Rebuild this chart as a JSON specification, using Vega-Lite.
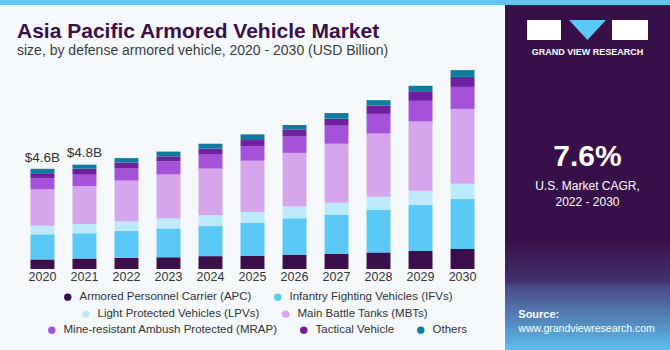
{
  "$schema": "https://vega.github.io/schema/vega-lite/v6.json",
  "background": "#f5f9fc",
  "padding": 0,
  "spacing": 0,
  "bounds": "flush",
  "config": {"view": {"stroke": null}, "font": "Liberation Sans"},
  "datasets": {
    "segs": [
      {"seg":"Armored Personnel Carrier (APC)","rank":1},
      {"seg":"Infantry Fighting Vehicles (IFVs)","rank":2},
      {"seg":"Light Protected Vehicles (LPVs)","rank":3},
      {"seg":"Main Battle Tanks (MBTs)","rank":4},
      {"seg":"Mine-resistant Ambush Protected (MRAP)","rank":5},
      {"seg":"Tactical Vehicle","rank":6},
      {"seg":"Others","rank":7}
    ],
    "main": [
      {"year":"2020","seg":"Armored Personnel Carrier (APC)","v":0.44},{"year":"2020","seg":"Infantry Fighting Vehicles (IFVs)","v":1.15},{"year":"2020","seg":"Light Protected Vehicles (LPVs)","v":0.40},{"year":"2020","seg":"Main Battle Tanks (MBTs)","v":1.67},{"year":"2020","seg":"Mine-resistant Ambush Protected (MRAP)","v":0.50},{"year":"2020","seg":"Tactical Vehicle","v":0.24},{"year":"2020","seg":"Others","v":0.20},
      {"year":"2021","seg":"Armored Personnel Carrier (APC)","v":0.48},{"year":"2021","seg":"Infantry Fighting Vehicles (IFVs)","v":1.16},{"year":"2021","seg":"Light Protected Vehicles (LPVs)","v":0.43},{"year":"2021","seg":"Main Battle Tanks (MBTs)","v":1.74},{"year":"2021","seg":"Mine-resistant Ambush Protected (MRAP)","v":0.52},{"year":"2021","seg":"Tactical Vehicle","v":0.28},{"year":"2021","seg":"Others","v":0.18},
      {"year":"2022","seg":"Armored Personnel Carrier (APC)","v":0.51},{"year":"2022","seg":"Infantry Fighting Vehicles (IFVs)","v":1.24},{"year":"2022","seg":"Light Protected Vehicles (LPVs)","v":0.43},{"year":"2022","seg":"Main Battle Tanks (MBTs)","v":1.88},{"year":"2022","seg":"Mine-resistant Ambush Protected (MRAP)","v":0.55},{"year":"2022","seg":"Tactical Vehicle","v":0.28},{"year":"2022","seg":"Others","v":0.20},
      {"year":"2023","seg":"Armored Personnel Carrier (APC)","v":0.54},{"year":"2023","seg":"Infantry Fighting Vehicles (IFVs)","v":1.32},{"year":"2023","seg":"Light Protected Vehicles (LPVs)","v":0.46},{"year":"2023","seg":"Main Battle Tanks (MBTs)","v":2.02},{"year":"2023","seg":"Mine-resistant Ambush Protected (MRAP)","v":0.60},{"year":"2023","seg":"Tactical Vehicle","v":0.23},{"year":"2023","seg":"Others","v":0.22},
      {"year":"2024","seg":"Armored Personnel Carrier (APC)","v":0.59},{"year":"2024","seg":"Infantry Fighting Vehicles (IFVs)","v":1.38},{"year":"2024","seg":"Light Protected Vehicles (LPVs)","v":0.50},{"year":"2024","seg":"Main Battle Tanks (MBTs)","v":2.14},{"year":"2024","seg":"Mine-resistant Ambush Protected (MRAP)","v":0.64},{"year":"2024","seg":"Tactical Vehicle","v":0.28},{"year":"2024","seg":"Others","v":0.22},
      {"year":"2025","seg":"Armored Personnel Carrier (APC)","v":0.60},{"year":"2025","seg":"Infantry Fighting Vehicles (IFVs)","v":1.53},{"year":"2025","seg":"Light Protected Vehicles (LPVs)","v":0.49},{"year":"2025","seg":"Main Battle Tanks (MBTs)","v":2.35},{"year":"2025","seg":"Mine-resistant Ambush Protected (MRAP)","v":0.66},{"year":"2025","seg":"Tactical Vehicle","v":0.29},{"year":"2025","seg":"Others","v":0.26},
      {"year":"2026","seg":"Armored Personnel Carrier (APC)","v":0.66},{"year":"2026","seg":"Infantry Fighting Vehicles (IFVs)","v":1.67},{"year":"2026","seg":"Light Protected Vehicles (LPVs)","v":0.54},{"year":"2026","seg":"Main Battle Tanks (MBTs)","v":2.46},{"year":"2026","seg":"Mine-resistant Ambush Protected (MRAP)","v":0.75},{"year":"2026","seg":"Tactical Vehicle","v":0.33},{"year":"2026","seg":"Others","v":0.20},
      {"year":"2027","seg":"Armored Personnel Carrier (APC)","v":0.70},{"year":"2027","seg":"Infantry Fighting Vehicles (IFVs)","v":1.80},{"year":"2027","seg":"Light Protected Vehicles (LPVs)","v":0.54},{"year":"2027","seg":"Main Battle Tanks (MBTs)","v":2.71},{"year":"2027","seg":"Mine-resistant Ambush Protected (MRAP)","v":0.83},{"year":"2027","seg":"Tactical Vehicle","v":0.32},{"year":"2027","seg":"Others","v":0.26},
      {"year":"2028","seg":"Armored Personnel Carrier (APC)","v":0.76},{"year":"2028","seg":"Infantry Fighting Vehicles (IFVs)","v":1.96},{"year":"2028","seg":"Light Protected Vehicles (LPVs)","v":0.60},{"year":"2028","seg":"Main Battle Tanks (MBTs)","v":2.90},{"year":"2028","seg":"Mine-resistant Ambush Protected (MRAP)","v":0.90},{"year":"2028","seg":"Tactical Vehicle","v":0.38},{"year":"2028","seg":"Others","v":0.25},
      {"year":"2029","seg":"Armored Personnel Carrier (APC)","v":0.83},{"year":"2029","seg":"Infantry Fighting Vehicles (IFVs)","v":2.12},{"year":"2029","seg":"Light Protected Vehicles (LPVs)","v":0.64},{"year":"2029","seg":"Main Battle Tanks (MBTs)","v":3.18},{"year":"2029","seg":"Mine-resistant Ambush Protected (MRAP)","v":0.95},{"year":"2029","seg":"Tactical Vehicle","v":0.41},{"year":"2029","seg":"Others","v":0.28},
      {"year":"2030","seg":"Armored Personnel Carrier (APC)","v":0.92},{"year":"2030","seg":"Infantry Fighting Vehicles (IFVs)","v":2.29},{"year":"2030","seg":"Light Protected Vehicles (LPVs)","v":0.70},{"year":"2030","seg":"Main Battle Tanks (MBTs)","v":3.44},{"year":"2030","seg":"Mine-resistant Ambush Protected (MRAP)","v":1.01},{"year":"2030","seg":"Tactical Vehicle","v":0.46},{"year":"2030","seg":"Others","v":0.31}
    ],
    "totals": [
      {"year":"2020","total":4.6,"label":"$4.6B"},
      {"year":"2021","total":4.8,"label":"$4.8B"}
    ]
  },
  "vconcat": [
    {
      "width": 670, "height": 5,
      "view": {"fill": "#62c6ee", "stroke": null},
      "data": {"values": [{"t": ""}]},
      "mark": {"type": "point", "size": 0, "opacity": 0},
      "encoding": {}
    },
    {
      "spacing": 0,
      "bounds": "flush",
      "hconcat": [
        {
          "width": 505, "height": 264,
          "title": {
            "text": "Asia Pacific Armored Vehicle Market",
            "subtitle": "size, by defense armored vehicle, 2020 - 2030 (USD Billion)",
            "anchor": "start", "frame": "group", "dx": 17, "offset": -53,
            "font": "Liberation Sans", "fontSize": 21, "fontWeight": "bold", "color": "#3a0f4a",
            "subtitleFont": "Liberation Sans", "subtitleFontSize": 14, "subtitleColor": "#3c3c3c", "subtitlePadding": 2
          },
          "data": {"name": "main"},
          "encoding": {
            "x": {"field": "year", "type": "ordinal",
              "scale": {"paddingInner": 0.43, "paddingOuter": 0.726},
              "axis": {"title": null, "labelAngle": 0, "domain": false, "ticks": false, "labelFontSize": 12.5, "labelColor": "#333333", "labelPadding": 1, "labelFont": "Liberation Sans"}}
          },
          "layer": [
            {
              "transform": [{"lookup": "seg", "from": {"data": {"name": "segs"}, "key": "seg", "fields": ["rank"]}}],
              "mark": {"type": "bar"},
              "encoding": {
                "y": {"field": "v", "type": "quantitative", "stack": "zero", "scale": {"domain": [0, 12.12]}, "axis": null},
                "order": {"field": "rank", "type": "quantitative", "sort": "ascending"},
                "color": {"field": "seg", "type": "nominal",
                  "scale": {"domain": ["Armored Personnel Carrier (APC)","Infantry Fighting Vehicles (IFVs)","Light Protected Vehicles (LPVs)","Main Battle Tanks (MBTs)","Mine-resistant Ambush Protected (MRAP)","Tactical Vehicle","Others"],
                            "range": ["#3b0f4a","#5bc9f5","#bdeafa","#d5a6ec","#a551d9","#6f20a0","#0e7b9f"]},
                  "legend": null}
              }
            },
            {
              "transform": [{"filter": {"field": "seg", "oneOf": ["Armored Personnel Carrier (APC)","Infantry Fighting Vehicles (IFVs)"]}}],
              "mark": {"type": "point", "filled": true, "opacity": 0},
              "encoding": {
                "y": {"field": "v", "type": "quantitative", "scale": {"domain": [0, 12.12]}, "axis": null},
                "color": {"field": "seg", "type": "nominal",
                  "scale": {"domain": ["Armored Personnel Carrier (APC)","Infantry Fighting Vehicles (IFVs)"], "range": ["#3b0f4a","#5bc9f5"]},
                  "legend": {"orient": "none", "legendX": 62, "legendY": 286, "direction": "horizontal", "title": null, "symbolType": "circle", "symbolSize": 55, "symbolOpacity": 1, "symbolStrokeWidth": 0, "labelFontSize": 11.5, "labelFont": "Liberation Sans", "labelColor": "#333333", "labelOffset": 6, "columnPadding": 20, "padding": 0, "labelLimit": 400}}
              }
            },
            {
              "transform": [{"filter": {"field": "seg", "oneOf": ["Light Protected Vehicles (LPVs)","Main Battle Tanks (MBTs)"]}}],
              "mark": {"type": "point", "filled": true, "opacity": 0},
              "encoding": {
                "y": {"field": "v", "type": "quantitative", "scale": {"domain": [0, 12.12]}, "axis": null},
                "color": {"field": "seg", "type": "nominal",
                  "scale": {"domain": ["Light Protected Vehicles (LPVs)","Main Battle Tanks (MBTs)"], "range": ["#bdeafa","#d5a6ec"]},
                  "legend": {"orient": "none", "legendX": 80, "legendY": 303, "direction": "horizontal", "title": null, "symbolType": "circle", "symbolSize": 55, "symbolOpacity": 1, "symbolStrokeWidth": 0, "labelFontSize": 11.5, "labelFont": "Liberation Sans", "labelColor": "#333333", "labelOffset": 6, "columnPadding": 20, "padding": 0, "labelLimit": 400}}
              }
            },
            {
              "transform": [{"filter": {"field": "seg", "oneOf": ["Mine-resistant Ambush Protected (MRAP)","Tactical Vehicle","Others"]}}],
              "mark": {"type": "point", "filled": true, "opacity": 0},
              "encoding": {
                "y": {"field": "v", "type": "quantitative", "scale": {"domain": [0, 12.12]}, "axis": null},
                "color": {"field": "seg", "type": "nominal",
                  "scale": {"domain": ["Mine-resistant Ambush Protected (MRAP)","Tactical Vehicle","Others"], "range": ["#a551d9","#6f20a0","#0e7b9f"]},
                  "legend": {"orient": "none", "legendX": 46, "legendY": 319, "direction": "horizontal", "title": null, "symbolType": "circle", "symbolSize": 55, "symbolOpacity": 1, "symbolStrokeWidth": 0, "labelFontSize": 11.5, "labelFont": "Liberation Sans", "labelColor": "#333333", "labelOffset": 6, "columnPadding": 20, "padding": 0, "labelLimit": 400}}
              }
            },
            {
              "data": {"name": "totals"},
              "mark": {"type": "text", "dy": -7, "fontSize": 13.5, "color": "#333333", "baseline": "alphabetic", "font": "Liberation Sans"},
              "encoding": {
                "y": {"field": "total", "type": "quantitative", "scale": {"domain": [0, 12.12]}, "axis": null},
                "text": {"field": "label"}
              }
            }
          ],
          "resolve": {"scale": {"color": "independent"}, "legend": {"color": "independent"}}
        },
        {
          "width": 165, "height": 345,
          "view": {"fill": "#381049", "stroke": null},
          "data": {"values": [{}]},
          "layer": [
            {"mark": {"type": "rect", "x": 0, "x2": 165, "y": 235, "y2": 345,
              "fill": {"gradient": "linear", "x1": 0, "y1": 0, "x2": 0, "y2": 1,
                "stops": [{"offset": 0, "color": "#381049"}, {"offset": 0.38, "color": "#43306c"}, {"offset": 0.42, "color": "#4a4a85"}, {"offset": 1, "color": "#5cbdec"}]}}, "encoding": {}},
            {"mark": {"type": "rect", "x": 22, "x2": 56, "y": 15, "y2": 35, "fill": "#ffffff"}, "encoding": {}},
            {"mark": {"type": "rect", "x": 107, "x2": 143, "y": 15, "y2": 35, "fill": "#ffffff"}, "encoding": {}},
            {"mark": {"type": "rule", "x": 38, "x2": 56, "y": 28.5, "y2": 28.5, "stroke": "#381049", "strokeWidth": 1.2}, "encoding": {}},
            {"mark": {"type": "rule", "x": 38, "x2": 38, "y": 28.5, "y2": 32, "stroke": "#381049", "strokeWidth": 1.2}, "encoding": {}},
            {"mark": {"type": "rule", "x": 127, "x2": 143, "y": 25.5, "y2": 31, "stroke": "#381049", "strokeWidth": 1.2}, "encoding": {}},
            {"mark": {"type": "point", "shape": "M-1,-0.54L1,-0.54L0,0.54Z", "size": 1369, "filled": true, "fill": "#5bc9f5", "opacity": 1, "strokeWidth": 0, "x": 82.5, "y": 25}, "encoding": {}},
            {"mark": {"type": "text", "text": "GRAND VIEW RESEARCH", "x": 82.5, "y": 49.5, "align": "center", "baseline": "alphabetic", "font": "Liberation Sans", "fontSize": 9, "fontWeight": "bold", "letterSpacing": 0.9, "color": "#ffffff"}, "encoding": {}},
            {"mark": {"type": "text", "text": "7.6%", "x": 82.5, "y": 160.7, "align": "center", "baseline": "alphabetic", "font": "Liberation Sans", "fontSize": 30, "fontWeight": "bold", "color": "#ffffff"}, "encoding": {}},
            {"mark": {"type": "rule", "x": 29.5, "x2": 135.5, "y": 168.3, "y2": 168.3, "stroke": "#e6e0ea", "strokeWidth": 1.5}, "encoding": {}},
            {"mark": {"type": "text", "text": ["U.S. Market CAGR,", "2022 - 2030"], "lineHeight": 16, "x": 82.5, "y": 184.5, "align": "center", "baseline": "alphabetic", "font": "Liberation Sans", "fontSize": 12, "color": "#ffffff"}, "encoding": {}},
            {"mark": {"type": "text", "text": "Source:", "x": 13.3, "y": 313.3, "align": "left", "baseline": "alphabetic", "font": "Liberation Sans", "fontSize": 11, "fontWeight": "bold", "color": "#ffffff"}, "encoding": {}},
            {"mark": {"type": "text", "text": "www.grandviewresearch.com", "x": 13.3, "y": 327, "align": "left", "baseline": "alphabetic", "font": "Liberation Sans", "fontSize": 10.5, "color": "#ffffff"}, "encoding": {}}
          ]
        }
      ]
    }
  ]
}
